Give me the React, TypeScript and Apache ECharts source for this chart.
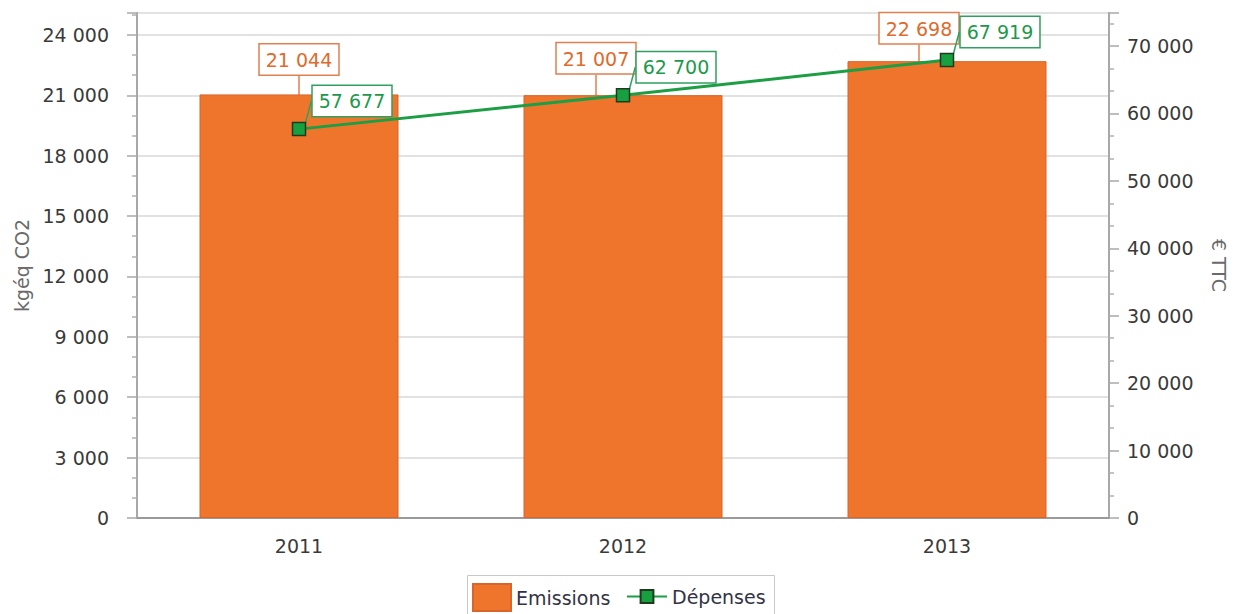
import React, { useEffect, useRef } from "react";
import * as echarts from "echarts";

const categories = ["2011", "2012", "2013"];
const emissions = [21044, 21007, 22698];
const depenses = [57677, 62700, 67919];
const subTicks = ["", "", "", "", "", "", "", "", "", "", "", "", "", "", ""];

const FONT = "DejaVu Sans";
const FS = 19;
const ORANGE = "#f0752c";
const GREEN = "#1c9e44";

const barLabelShift = [
  [0, -15],
  [-27, -17],
  [-28, -13],
];

const fmt = (v: number) => String(v).replace(/\B(?=(\d{3})+(?!\d))/g, " ");

export default function App() {
  const ref = useRef<HTMLDivElement>(null);
  useEffect(() => {
    if (!ref.current) return;
    const chart = echarts.init(ref.current, null, { renderer: "svg" });
    chart.setOption({
      animation: false,
      backgroundColor: "#ffffff",
      textStyle: { fontFamily: FONT },
      grid: { left: 137, right: 124, top: 13, bottom: 96, containLabel: false, outerBoundsMode: "none" },
      graphic: [
        {
          type: "rect",
          left: 467,
          top: 575,
          shape: { width: 307, height: 50 },
          style: { fill: "#ffffff", stroke: "#c8c8c8", lineWidth: 1 },
          z: -1,
        },
      ],
      legend: [
        {
          left: 472,
          top: 583,
          padding: 0,
          itemWidth: 38,
          itemHeight: 27,
          icon: "rect",
          textStyle: { fontFamily: FONT, fontSize: FS, color: "#333344", lineHeight: 27 },
          data: ["Emissions"],
        },
        {
          left: 626,
          top: 583,
          padding: 0,
          itemWidth: 40,
          itemHeight: 16,
          textStyle: { fontFamily: FONT, fontSize: FS, color: "#333344", lineHeight: 27 },
          data: ["Dépenses"],
        },
      ],
      xAxis: [
        {
          type: "category",
          data: categories,
          position: "bottom",
          axisLine: { lineStyle: { color: "#9a9a9a", width: 2 } },
          axisTick: { alignWithLabel: true, length: 9, lineStyle: { color: "#b0b0b0", width: 2 } },
          axisLabel: { fontFamily: FONT, fontSize: FS, color: "#3a3a3a", margin: 18 },
          splitLine: { show: false },
        },
        {
          type: "category",
          data: subTicks,
          position: "bottom",
          axisLine: { show: false },
          axisTick: { alignWithLabel: true, length: 4, lineStyle: { color: "#b0b0b0", width: 2 } },
          axisLabel: { show: false },
          splitLine: { show: false },
        },
      ],
      yAxis: [
        {
          type: "value",
          min: 0,
          max: 25090,
          interval: 3000,
          name: "kgéq CO2",
          nameLocation: "middle",
          nameGap: 105,
          nameRotate: 90,
          nameTextStyle: { fontFamily: FONT, fontSize: FS, color: "#6a6a6a" },
          axisLine: { show: true, lineStyle: { color: "#a8a8a8", width: 2 } },
          axisTick: { show: true, length: 10, lineStyle: { color: "#a8a8a8", width: 1.5 } },
          minorTick: { show: true, splitNumber: 3, length: 5, lineStyle: { color: "#b0b0b0", width: 1.5 } },
          axisLabel: {
            fontFamily: FONT,
            fontSize: FS,
            color: "#3a3a3a",
            margin: 28,
            showMaxLabel: false,
            formatter: (v: number) => fmt(v),
          },
          splitLine: { show: true, lineStyle: { color: "#e2e2e2", width: 2 } },
        },
        {
          type: "value",
          min: 0,
          max: 74900,
          interval: 10000,
          position: "right",
          name: "€ TTC",
          nameLocation: "middle",
          nameGap: 100,
          nameRotate: -90,
          nameTextStyle: { fontFamily: FONT, fontSize: FS, color: "#6a6a6a" },
          axisLine: { show: true, lineStyle: { color: "#a8a8a8", width: 2 } },
          axisTick: { show: true, length: 10, lineStyle: { color: "#a8a8a8", width: 1.5 } },
          minorTick: { show: true, splitNumber: 3, length: 5, lineStyle: { color: "#b0b0b0", width: 1.5 } },
          axisLabel: {
            fontFamily: FONT,
            fontSize: FS,
            color: "#3a3a3a",
            margin: 18,
            showMaxLabel: false,
            formatter: (v: number) => fmt(v),
          },
          splitLine: { show: false },
        },
      ],
      series: [
        {
          name: "Emissions",
          type: "bar",
          xAxisIndex: 0,
          yAxisIndex: 0,
          data: emissions,
          barWidth: 199,
          itemStyle: { color: ORANGE, borderColor: "#d8652a", borderWidth: 1 },
          label: {
            show: true,
            position: "top",
            distance: 5,
            fontFamily: FONT,
            fontSize: FS,
            color: "#e06a2c",
            backgroundColor: "#ffffff",
            borderColor: "#e08050",
            borderWidth: 1.5,
            padding: [6, 6, 5, 6],
            formatter: (p: any) => fmt(p.value as number),
          },
          labelLine: { show: true, lineStyle: { color: "#e08050", width: 1.5 } },
          labelLayout: (p: any) => ({ dx: barLabelShift[p.dataIndex][0], dy: barLabelShift[p.dataIndex][1] }),
          z: 2,
        },
        {
          name: "Dépenses",
          type: "line",
          xAxisIndex: 0,
          yAxisIndex: 1,
          data: depenses,
          symbol: "rect",
          symbolSize: 13,
          lineStyle: { color: GREEN, width: 3 },
          itemStyle: { color: "#16a040", borderColor: "#203a20", borderWidth: 1.5 },
          label: {
            show: true,
            position: "inside",
            fontFamily: FONT,
            fontSize: FS,
            color: "#1c9a4a",
            backgroundColor: "#ffffff",
            borderColor: "#30a060",
            borderWidth: 1.5,
            padding: [6, 6, 5, 6],
            formatter: (p: any) => fmt(p.value as number),
          },
          labelLine: { show: true, lineStyle: { color: "#30a060", width: 1.5 } },
          labelLayout: { dx: 53, dy: -28 },
          z: 5,
        },
      ],
    });
    return () => chart.dispose();
  }, []);
  return (
    <div
      ref={ref}
      style={{ position: "fixed", left: 0, top: 0, width: 1233, height: 614, background: "#fff" }}
    />
  );
}
